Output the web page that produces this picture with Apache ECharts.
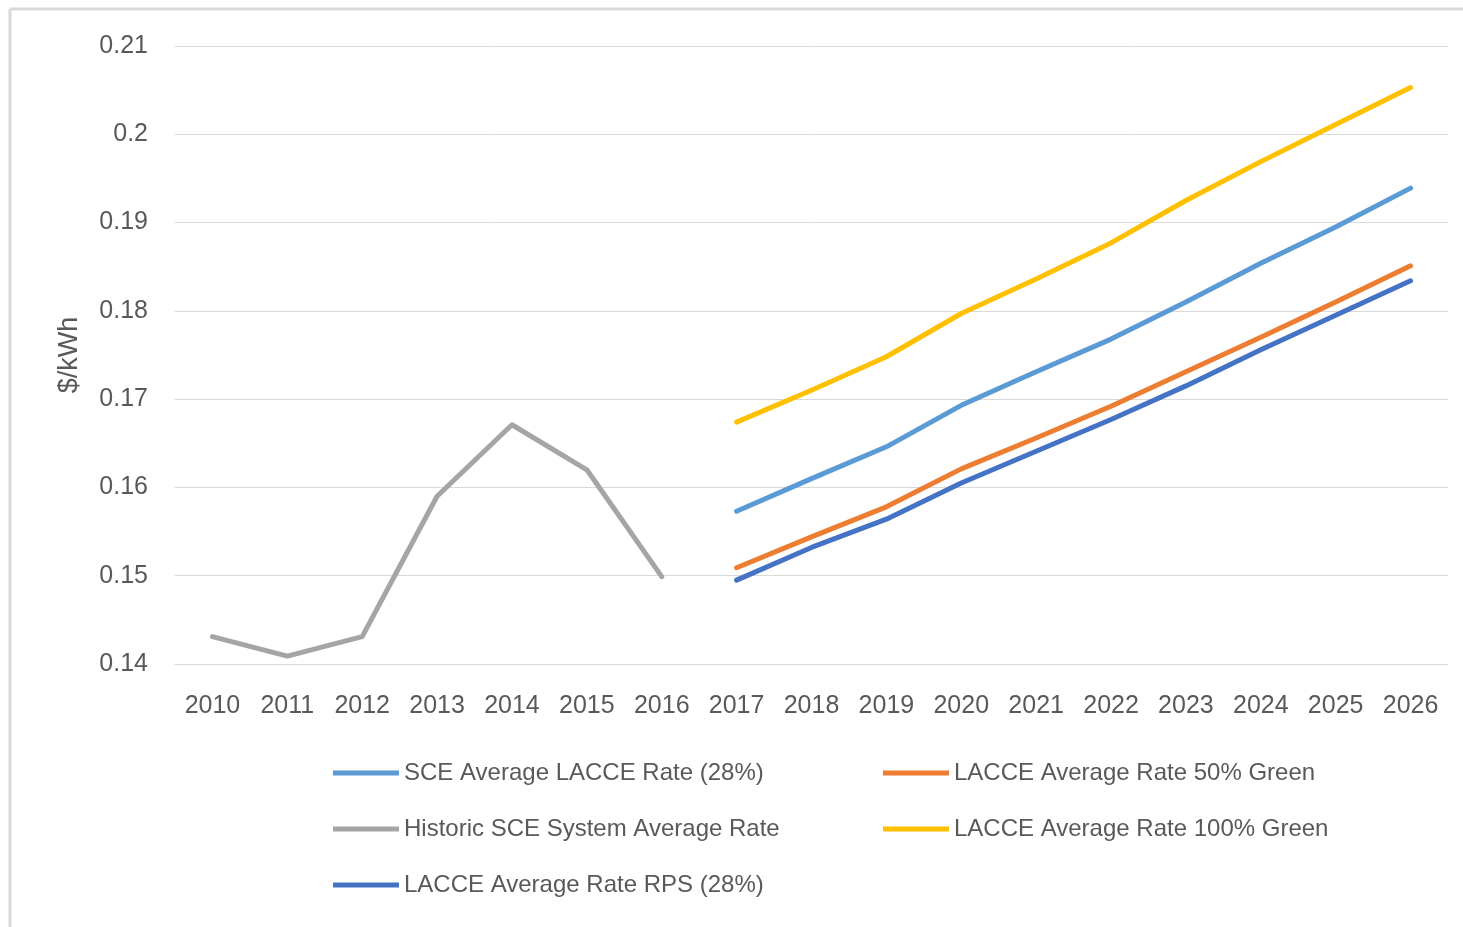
<!DOCTYPE html>
<html>
<head>
<meta charset="utf-8">
<script src="https://cdn.jsdelivr.net/npm/echarts@6/dist/echarts.min.js"></script>
<style>
  html, body { margin: 0; padding: 0; background: #fff; }
  #main { width: 1463px; height: 927px; }
</style>
</head>
<body>
<div id="main"></div>
<script>
// years on the x axis
var years = ['2010', '2011', '2012', '2013', '2014', '2015', '2016', '2017', '2018',
  '2019', '2020', '2021', '2022', '2023', '2024', '2025', '2026']

// historic 2010-2016, projections 2017-2026 ($/kWh)
var historic = [0.1431, 0.1409, 0.1431, 0.1590, 0.1671, 0.1620, 0.1499,
  null, null, null, null, null, null, null, null, null, null]
var sceRate = [null, null, null, null, null, null, null,
  0.1573, 0.1610, 0.1646, 0.1693, 0.1731, 0.1768, 0.1810, 0.1854, 0.1895, 0.1939]
var green50 = [null, null, null, null, null, null, null,
  0.1509, 0.1544, 0.1578, 0.1621, 0.1656, 0.1692, 0.1731, 0.1770, 0.1810, 0.1851]
var green100 = [null, null, null, null, null, null, null,
  0.1674, 0.1710, 0.1748, 0.1797, 0.1836, 0.1877, 0.1925, 0.1969, 0.2011, 0.2053]
var rps = [null, null, null, null, null, null, null,
  0.1495, 0.1532, 0.1564, 0.1605, 0.1641, 0.1677, 0.1715, 0.1756, 0.1795, 0.1834]

var font = 'Liberation Sans'
var textColor = '#595959'

function line(name, data, color) {
  return {
    name: name,
    type: 'line',
    data: data,
    showSymbol: false,
    connectNulls: false,
    lineStyle: { width: 5, color: color, cap: 'round', join: 'round' },
    itemStyle: { color: color }
  }
}

var legendText = { fontFamily: font, fontSize: 24, color: textColor }

var myChart = echarts.init(document.getElementById('main'))
var option = {
  animation: false,
  backgroundColor: '#fff',
  graphic: [
    { type: 'line', shape: { x1: 10, y1: 9, x2: 1463, y2: 9 }, style: { stroke: '#D9D9D9', lineWidth: 3 } },
    { type: 'line', shape: { x1: 10, y1: 9, x2: 10, y2: 927 }, style: { stroke: '#D9D9D9', lineWidth: 3 } }
  ],
  grid: { left: 175, right: 15, top: 46, bottom: 263 },
  legend: [
    {
      orient: 'vertical',
      left: 328,
      top: 756,
      icon: 'rect',
      itemWidth: 66,
      itemHeight: 5,
      itemGap: 32,
      textStyle: legendText,
      data: ['SCE Average LACCE Rate (28%)', 'Historic SCE System Average Rate', 'LACCE Average Rate RPS (28%)']
    },
    {
      orient: 'vertical',
      left: 878,
      top: 756,
      icon: 'rect',
      itemWidth: 66,
      itemHeight: 5,
      itemGap: 32,
      textStyle: legendText,
      data: ['LACCE Average Rate 50% Green', 'LACCE Average Rate 100% Green']
    }
  ],
  xAxis: {
    type: 'category',
    data: years,
    boundaryGap: true,
    axisLine: { show: true, lineStyle: { color: '#D9D9D9', width: 1 } },
    axisTick: { show: false },
    axisLabel: { fontFamily: font, fontSize: 25, color: textColor, margin: 30 }
  },
  yAxis: {
    type: 'value',
    min: 0.14,
    max: 0.21,
    interval: 0.01,
    name: '$/kWh',
    nameLocation: 'middle',
    nameGap: 92,
    nameTextStyle: { fontFamily: font, fontSize: 27, color: textColor },
    axisLine: { show: false },
    axisTick: { show: false },
    splitLine: { lineStyle: { color: '#D9D9D9', width: 1 } },
    axisLabel: {
      fontFamily: font, fontSize: 25, color: textColor, margin: 27,
      formatter: function (v) { return String(Math.round(v * 100) / 100) }
    }
  },
  series: [
    line('SCE Average LACCE Rate (28%)', sceRate, '#5B9BD5'),
    line('LACCE Average Rate 50% Green', green50, '#ED7D31'),
    line('Historic SCE System Average Rate', historic, '#A5A5A5'),
    line('LACCE Average Rate 100% Green', green100, '#FFC000'),
    line('LACCE Average Rate RPS (28%)', rps, '#4472C4')
  ]
}
myChart.setOption(option)
</script>
</body>
</html>
